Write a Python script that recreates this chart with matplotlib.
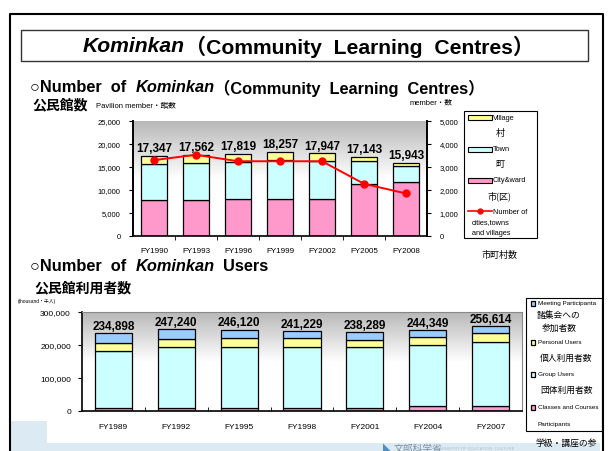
import numpy as np
import matplotlib
matplotlib.use("Agg")
import matplotlib.pyplot as plt
from matplotlib import font_manager
from matplotlib.patches import Rectangle
from matplotlib.lines import Line2D
from matplotlib.colors import LinearSegmentedColormap

# --- data: number of Kominkan ---
fy_top = ["FY1990", "FY1993", "FY1996", "FY1999", "FY2002", "FY2005", "FY2008"]
city = [7800, 7800, 8000, 8000, 8000, 11200, 11640]
town = [7770, 8050, 8000, 8500, 8280, 5080, 3620]
village = [1777, 1712, 1819, 1757, 1667, 863, 683]
top_totals = ["17,347", "17,562", "17,819", "18,257", "17,947", "17,143", "15,943"]
top_total_vals = [17347, 17562, 17819, 18257, 17947, 17143, 15943]
municipalities = [3300, 3530, 3250, 3250, 3250, 2270, 1850]

# --- data: Kominkan users (thousand) ---
fy_bot = ["FY1989", "FY1992", "FY1995", "FY1998", "FY2001", "FY2004", "FY2007"]
classes = [9000, 9000, 9000, 9000, 9000, 15000, 15000]
group = [171400, 185600, 185600, 185600, 185600, 184700, 194800]
personal = [24300, 22300, 25400, 25400, 19200, 24300, 27300]
meeting = [30200, 30340, 26120, 21229, 24489, 20349, 19514]
bot_totals = ["234,898", "247,240", "246,120", "241,229", "238,289", "244,349", "256,614"]
bot_total_vals = [234898, 247240, 246120, 241229, 238289, 244349, 256614]

YELLOW = "#ffff99"
CYAN = "#ccffff"
PINK = "#ff99cc"
BLUE = "#99ccff"

names = {f.name for f in font_manager.fontManager.ttflist}
NARROW = "Liberation Sans Narrow" if "Liberation Sans Narrow" in names else "Liberation Sans"
SANS = ["Liberation Sans", "Noto Sans CJK JP"]
CJK = ["Noto Sans CJK JP", "Liberation Sans"]
plt.rcParams["font.family"] = SANS

W, H = 609, 452
fig = plt.figure(figsize=(W / 100, H / 100), dpi=100)
renderer = fig.canvas.get_renderer()


def rect(x0, y0, x1, y1):
    return [x0 / W, 1 - y1 / H, (x1 - x0) / W, (y1 - y0) / H]


def ftext(x, y, s, **kw):
    return fig.text(x / W, 1 - y / H, s, **kw)


def fbox(x0, y0, x1, y1, **kw):
    r = Rectangle((x0 / W, 1 - y1 / H), (x1 - x0) / W, (y1 - y0) / H,
                  transform=fig.transFigure, **kw)
    fig.add_artist(r)
    return r


def run_width(parts, size):
    w = 0
    for s, st in parts:
        t = ftext(0, 0, s, fontsize=size, fontweight="bold", style=st)
        w += t.get_window_extent(renderer).width
        t.remove()
    return w


def run_text(x, y, parts, size):
    # bold text pieces laid one after another, some of them italic
    cur = x
    for s, st in parts:
        t = ftext(cur, y, s, fontsize=size, fontweight="bold", style=st, va="center")
        cur += t.get_window_extent(renderer).width


def fit_size(parts, width):
    return 10 * width / run_width(parts, 10)


# slide background bits at the bottom
fbox(11, 422, 47, 452, facecolor="#dcebf3", edgecolor="none", zorder=0)
fbox(11, 444, 600, 452, facecolor="#dcebf3", edgecolor="none", zorder=0)
ftext(383, 449, "◣", color="#4f8fc0", fontsize=7, va="center", family=CJK)
ftext(394, 449, "文部科学省", color="#7c8ea3", fontsize=7, va="center", family=CJK)
ftext(440, 449, "MINISTRY OF EDUCATION, CULTURE", color="#b0bccb", fontsize=3, va="center")

# outer border and title box
fig.add_artist(Line2D([10 / W, 10 / W, 603 / W, 603 / W], [0, 1 - 15 / H, 1 - 15 / H, 0],
                      transform=fig.transFigure, color="black", lw=1.5))
fbox(21, 31, 588, 62, facecolor="white", edgecolor="#333333", lw=1.0)
title_parts = [("Kominkan", "italic"), ("（Community  Learning  Centres）", "normal")]
run_text(83, 47, title_parts, fit_size(title_parts, 454))

# section headings
head1 = [("○Number  of  ", "normal"), ("Kominkan", "italic"),
         ("（Community  Learning  Centres）", "normal")]
hsize = fit_size(head1, 457)
run_text(30, 88, head1, hsize)
run_text(30, 267, [("○Number  of  ", "normal"), ("Kominkan", "italic"), ("  Users", "normal")], hsize)

ftext(32, 105, "公民館数", fontsize=10, fontweight="bold", va="center", family=CJK)
ftext(96, 106, "Pavilion member・館数", fontsize=5.5, va="center", family=SANS)
ftext(410, 103, "member・数", fontsize=5.5, va="center", family=SANS)
ftext(34, 288, "公民館利用者数", fontsize=10, fontweight="bold", va="center", family=CJK)
ftext(18, 302, "(thousand・千人)", fontsize=3.5, va="center", family=SANS)

grad = LinearSegmentedColormap.from_list("g", ["#ffffff", "#ffffff", "#b8b8b8"])


def gradient_bg(pos):
    bg = fig.add_axes(pos, zorder=0)
    bg.imshow(np.linspace(0, 1, 256).reshape(-1, 1), cmap=grad, origin="lower",
              aspect="auto", extent=[0, 1, 0, 1])
    bg.axis("off")


# ---------- top chart ----------
pos_top = rect(133, 122, 427, 237)
gradient_bg(pos_top)
ax = fig.add_axes(pos_top, zorder=1)
ax.patch.set_visible(False)
x = np.arange(len(fy_top))
bw = 0.61
ax.bar(x, city, bw, color=PINK, edgecolor="black", lw=0.9)
ax.bar(x, town, bw, bottom=city, color=CYAN, edgecolor="black", lw=0.9)
ax.bar(x, village, bw, bottom=np.add(city, town), color=YELLOW, edgecolor="black", lw=0.9)
for xi, v, s in zip(x, top_total_vals, top_totals):
    ax.text(xi, v + 400, s, ha="center", va="bottom", fontsize=8.5, fontweight="bold")
ax.set_xlim(-0.5, len(fy_top) - 0.5)
ax.set_ylim(0, 25000)
ax.set_yticks(range(0, 25001, 5000))
ax.set_yticklabels([f"{v:,}" for v in range(0, 25001, 5000)], fontsize=5.5)
ax.set_xticks(x)
ax.set_xticklabels(fy_top, fontsize=5.8)
ax.set_xticks(np.arange(0.5, len(fy_top) - 1, 1), minor=True)
ax.tick_params(axis="x", which="major", length=0, pad=8)
ax.tick_params(axis="x", which="minor", length=3, direction="out")
ax.tick_params(axis="y", length=3, direction="out", pad=6)
ax.spines["left"].set_linewidth(1.4)
ax.spines["bottom"].set_linewidth(1.2)
ax.spines["top"].set_visible(False)
ax.spines["right"].set_visible(False)

ax2 = ax.twinx()
ax2.plot(x, municipalities, color="red", lw=1.4, marker="o", ms=5)
ax2.set_ylim(0, 5000)
ax2.set_yticks(range(0, 5001, 1000))
ax2.set_yticklabels([f"{v:,}" for v in range(0, 5001, 1000)], fontsize=5.5)
ax2.tick_params(axis="y", length=3, direction="out", pad=6)
for s in ["left", "top", "bottom"]:
    ax2.spines[s].set_visible(False)
ax2.spines["right"].set_linewidth(1.4)

# top legend
fbox(464, 112, 537, 239, facecolor="white", edgecolor="black", lw=0.8)
lx0, lx1 = 468, 492
for y, c, lab, jp in [(118, YELLOW, "Village", "村"), (150, CYAN, "Town", "町"),
                      (181, PINK, "City&ward", "市(区)")]:
    fbox(lx0, y - 2.5, lx1, y + 2.5, facecolor=c, edgecolor="black", lw=0.8)
    ftext(493, y, lab, fontsize=5.3, va="center")
    ftext(500, y + 15, jp, fontsize=6.5, ha="center", va="center", family=CJK)
fig.add_artist(Line2D([lx0 / W, (lx0 + lx1) / 2 / W, lx1 / W], [1 - 212 / H] * 3,
                      transform=fig.transFigure, color="red", lw=1.2,
                      marker="o", ms=3.5, markevery=[1]))
ftext(493, 212, "Number of", fontsize=5.3, va="center")
ftext(472, 223, "cities,towns", fontsize=5.3, va="center")
ftext(472, 234, "and villages", fontsize=5.3, va="center")
ftext(482, 255, "市町村数", fontsize=6.5, va="center", family=CJK)

# ---------- bottom chart ----------
pos_bot = rect(82, 313, 522, 412)
gradient_bg(pos_bot)
bx = fig.add_axes(pos_bot, zorder=1)
bx.patch.set_visible(False)
xb = np.arange(len(fy_bot))
bw2 = 0.59
b1 = np.array(classes)
b2 = b1 + np.array(group)
b3 = b2 + np.array(personal)
bx.bar(xb, classes, bw2, color=PINK, edgecolor="black", lw=0.9)
bx.bar(xb, group, bw2, bottom=b1, color=CYAN, edgecolor="black", lw=0.9)
bx.bar(xb, personal, bw2, bottom=b2, color=YELLOW, edgecolor="black", lw=0.9)
bx.bar(xb, meeting, bw2, bottom=b3, color=BLUE, edgecolor="black", lw=0.9)
for xi, v, s in zip(xb, bot_total_vals, bot_totals):
    bx.text(xi, v + 5000, s, ha="center", va="bottom", fontsize=8.5, fontweight="bold")
bx.set_xlim(-0.5, len(fy_bot) - 0.5)
bx.set_ylim(0, 300000)
bx.set_yticks(range(0, 300001, 100000))
bx.set_yticklabels([f"{v:,}" for v in range(0, 300001, 100000)], fontsize=6, family=NARROW)
bx.set_xticks(xb)
bx.set_xticklabels(fy_bot, fontsize=6, family=NARROW)
bx.set_xticks(np.arange(0.5, len(fy_bot) - 1, 1), minor=True)
bx.tick_params(axis="x", which="major", length=0, pad=9)
bx.tick_params(axis="x", which="minor", length=3, direction="in")
bx.tick_params(axis="y", length=3, direction="out", pad=5)
bx.spines["left"].set_linewidth(1.2)
bx.spines["bottom"].set_linewidth(1.2)
bx.spines["top"].set_color("#888888")
bx.spines["right"].set_color("#888888")

# bottom legend
fbox(526, 299, 602, 432, facecolor="white", edgecolor="black", lw=0.8)
for y, c, lab in [(304, BLUE, "Meeting Participanta"), (343, YELLOW, "Personal Users"),
                  (375, CYAN, "Group Users"), (408, PINK, "Classes and Courses")]:
    fbox(531, y - 2.5, 535, y + 2.5, facecolor=c, edgecolor="black", lw=0.9)
    ftext(538, y, lab, fontsize=4.6, va="center", family=NARROW)
ftext(537, 316, "諸集会への", fontsize=6.3, va="center", family=CJK)
ftext(542, 328, "参加者数", fontsize=6.3, va="center", family=CJK)
ftext(540, 358, "個人利用者数", fontsize=6.3, va="center", family=CJK)
ftext(540, 390, "団体利用者数", fontsize=6.3, va="center", family=CJK)
ftext(537, 425, "Participants", fontsize=4.6, va="center", family=NARROW)
ftext(535, 443, "学級・講座の参", fontsize=6.3, va="center", family=CJK)
ftext(556, 455, "加者数", fontsize=6.3, va="center", family=CJK)

fig.savefig("out.png", dpi=100)
